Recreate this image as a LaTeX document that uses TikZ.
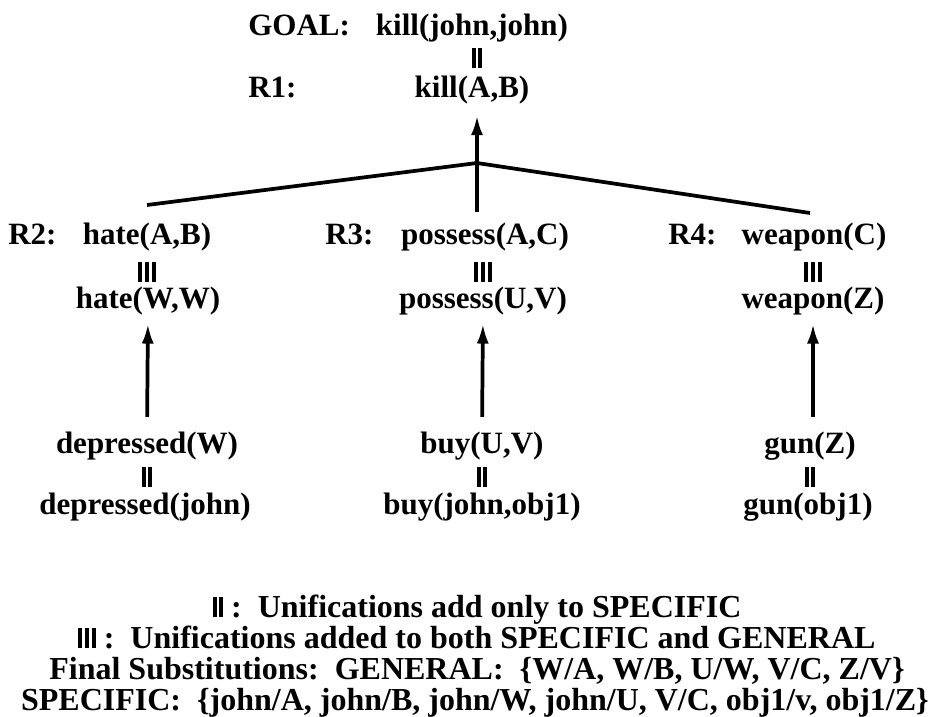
\documentclass[tikz,border=0pt]{standalone}
\usepackage{fontspec}
\setmainfont{Liberation Serif}
\usetikzlibrary{arrows.meta,positioning}
\newcommand{\unitwo}{\rule{3pt}{15pt}\hspace{2pt}\rule{3pt}{15pt}}
\newcommand{\unithree}{\unitwo\hspace{2pt}\rule{3pt}{15pt}}

\begin{document}
\begin{tikzpicture}[x=0.75pt,y=-0.75pt,
    term/.style={inner sep=0pt, font=\fontsize{23.25pt}{28pt}\selectfont\bfseries,
                 text height=16.3pt, text depth=5.1pt},
    legend/.style={term, font=\fontsize{24pt}{28pt}\selectfont\bfseries},
    bars/.style={inner sep=0pt},
    link/.style={line width=2.8pt},
    uparrow/.style={line width=2.8pt, -{Latex[length=15pt,width=9pt]}}]
    \useasboundingbox (0,0) rectangle (942,717);

    % Goal and rule R1
    \node[term, anchor=west] (goallbl) at (248,28) {GOAL:};
    \node[term] (goal) at (472,28) {kill(john,john)};
    \node[bars] (eqgoal) at (477,58) {\unitwo};
    \node[term, anchor=west] (rilbl) at (248,90) {R1:};
    \node[term] (ri) at (472,90) {kill(A,B)};

    % Subgoals R2, R3, R4
    \node[term, anchor=west] (riilbl) at (8,237) {R2:};
    \node[term] (hateAB) at (147,237) {hate(A,B)};
    \node[term, anchor=west] (riiilbl) at (325,237) {R3:};
    \node[term] (possAC) at (485,237) {possess(A,C)};
    \node[term, anchor=west] (rivlbl) at (668,237) {R4:};
    \node[term] (weapC) at (814,237) {weapon(C)};

    \node[bars] (eqhate) at (147,272) {\unithree};
    \node[bars] (eqposs) at (483,272) {\unithree};
    \node[bars] (eqweap) at (813,272) {\unithree};

    \node[term] (hateWW) at (148,301) {hate(W,W)};
    \node[term] (possUV) at (483,301) {possess(U,V)};
    \node[term] (weapZ) at (813,301) {weapon(Z)};

    % Facts
    \node[term] (depW) at (147,446) {depressed(W)};
    \node[term] (buyUV) at (482,446) {buy(U,V)};
    \node[term] (gunZ) at (810,446) {gun(Z)};

    \node[bars] (eqdep) at (147,477) {\unitwo};
    \node[bars] (eqbuy) at (482,477) {\unitwo};
    \node[bars] (eqgun) at (810,477) {\unitwo};

    \node[term] (depjohn) at (145,507) {depressed(john)};
    \node[term] (buyjohn) at (482,507) {buy(john,obj1)};
    \node[term] (gunobj) at (808,507) {gun(obj1)};

    % Fork under R1
    \coordinate (fork) at (477,163);
    \coordinate (forkL) at (147,205);
    \coordinate (forkM) at (477,212);
    \coordinate (forkR) at (810,213);
    \draw[link] (forkL) -- (fork) -- (forkR);
    \draw[link] (forkM) -- (fork);
    \draw[uparrow, shorten >=8pt] (fork) -- (ri.south -| fork);

    % Fact arrows
    \draw[uparrow, shorten <=11pt, shorten >=6pt] (depW.north) -- (hateWW.south);
    \draw[uparrow, shorten <=11pt, shorten >=6pt] (buyUV.north) -- (possUV.south);
    \draw[uparrow, shorten <=11pt, shorten >=6pt] (gunZ.north -| weapZ) -- (weapZ.south);

    % Legend
    \node[legend] (legi) at (477,610) {\unitwo\ :\ \ Unifications add only to SPECIFIC};
    \node[legend] (legii) at (477,641) {\unithree\ :\ \ Unifications added to both SPECIFIC and GENERAL};
    \node[legend] (legiii) at (477,672) {Final Substitutions:\ \ GENERAL:\ \ \{W/A, W/B, U/W, V/C, Z/V\}};
    \node[legend] (legiv) at (475,703) {SPECIFIC:\ \ \{john/A, john/B, john/W, john/U, V/C, obj1/v, obj1/Z\}};

\end{tikzpicture}
\end{document}
